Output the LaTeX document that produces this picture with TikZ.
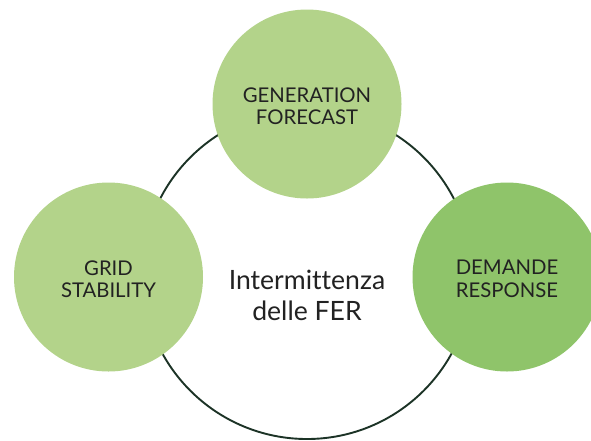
\documentclass[tikz,border=0pt]{standalone}
\usepackage{fontspec}
\setmainfont{Lato}[Ligatures={NoCommon}]
\definecolor{lightg}{HTML}{B3D38A}
\definecolor{darkg}{HTML}{8FC46A}
\definecolor{ringc}{HTML}{1C3326}
\definecolor{txt}{HTML}{222222}
\begin{document}
\begin{tikzpicture}[x=1pt,y=-1pt,
  bubble/.style={circle,inner sep=0pt,minimum size=189pt},
  btext/.style={text=txt,align=center,inner sep=0pt,font=\fontsize{20.3}{22.5}\selectfont},
  ring/.style={circle,draw=ringc,line width=1.9pt,inner sep=0pt,minimum size=330pt}]
\useasboundingbox (0,0) rectangle (591,440);
\node[ring] (ring) at (307,274) {};
\node[text=txt,align=center,inner sep=0pt,font=\fontsize{26.6}{31}\selectfont] (center) at (307,295) {Intermittenza\\delle FER};
\node[bubble,fill=lightg] (gen) at (307,104) {};
\node[bubble,fill=lightg] (grid) at (108.5,277) {};
\node[bubble,fill=darkg] (dem) at (507,277) {};
\node[btext] (gent) at ([yshift=-2pt]gen.center) {GENERATION\\FORECAST};
\node[btext] (gridt) at ([yshift=-2pt]grid.center) {GRID\\STABILITY};
\node[btext] (demt) at ([yshift=-2pt]dem.center) {DEMANDE\\RESPONSE};
\end{tikzpicture}
\end{document}
